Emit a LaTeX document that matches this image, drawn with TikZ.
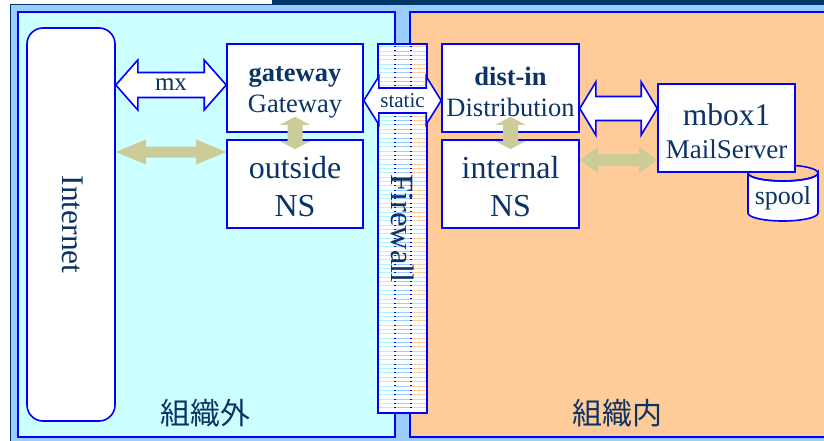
\documentclass[tikz,border=0pt]{standalone}
\usepackage{fontspec}
\setmainfont{Liberation Serif}
\newfontfamily\cjk{Noto Sans CJK JP}
\usetikzlibrary{calc}
\definecolor{lblue}{HTML}{99CCFF}
\definecolor{cyanp}{HTML}{CCFFFF}
\definecolor{orangep}{HTML}{FFCC99}
\definecolor{bblue}{HTML}{0000FF}
\definecolor{navy}{HTML}{003366}
\definecolor{khaki}{HTML}{CCCC99}
\definecolor{txt}{HTML}{0B3366}
\definecolor{cstripe}{HTML}{B0F6FF}
\definecolor{ostripe}{HTML}{FFCC99}
\tikzset{
  panel/.style={draw=bblue, line width=1.5pt},
  box/.style={draw=bblue, line width=1.6pt, fill=white, minimum width=136, minimum height=88, inner sep=0pt},
  btext/.style={inner sep=0pt, align=center, text=txt, font=\fontsize{26.5}{31}\selectfont},
  bigf/.style={font=\fontsize{32}{38}\selectfont},
  inet/.style={draw=bblue, line width=1.6pt, fill=white, rounded corners=16pt,
    minimum width=88, minimum height=393, inner sep=0pt},
  fwbox/.style={fill=white, minimum width=49, minimum height=369, inner sep=0pt},
  lbl/.style={text=txt, inner sep=0pt},
  jp/.style={text=txt, inner sep=0pt, font=\cjk\fontsize{30}{30}\selectfont},
  warrow/.style={draw=bblue, line width=1.6pt, fill=white, line join=miter},
  karrow/.style={fill=khaki},
  hdbl/.style n args={3}{to path={let \p1=(\tikztostart), \p2=(\tikztotarget) in
    -- (\x1+#3,\y1+#2) -- (\x1+#3,\y1+#1) -- (\x2-#3,\y1+#1) -- (\x2-#3,\y1+#2) -- (\x2,\y1)
    -- (\x2-#3,\y1-#2) -- (\x2-#3,\y1-#1) -- (\x1+#3,\y1-#1) -- (\x1+#3,\y1-#2) -- cycle}},
  vdbl/.style n args={3}{to path={let \p1=(\tikztostart), \p2=(\tikztotarget) in
    -- (\x1+#2,\y1-#3) -- (\x1+#1,\y1-#3) -- (\x1+#1,\y2+#3) -- (\x1+#2,\y2+#3) -- (\x1,\y2)
    -- (\x1-#2,\y2+#3) -- (\x1-#1,\y2+#3) -- (\x1-#1,\y1-#3) -- (\x1-#2,\y1-#3) -- cycle}},
}
\begin{document}
\begin{tikzpicture}[x=1pt,y=-1pt]
\useasboundingbox (0,0) rectangle (824,441);
% background
\fill[navy] (272,0) rectangle (830,4);
\filldraw[fill=lblue, draw=navy, line width=0.8pt] (10,4) rectangle (840,452);
\filldraw[panel, fill=cyanp] (18,12) rectangle (395,437);
\filldraw[panel, fill=orangep] (410,12) rectangle (840,437);
\node[jp] (outlbl) at (205,413.5) {組織外};
\node[jp] (inlbl) at (617,413.5) {組織内};
% Internet
\node[inet] (internet) at (71,224.5) {};
\node[lbl, rotate=-90, font=\fontsize{31.5}{31.5}\selectfont] (inettext) at ($(internet.center)+(2,0)$) {Internet};
% Firewall
\node[fwbox] (fw) at (402.5,228.5) {};
\foreach \i in {0,...,84} {
  \pgfmathsetmacro\yy{46.5+4.35*\i}
  \draw[cstripe, line width=0.6pt] (379,\yy) -- (395,\yy);
  \draw[lblue, line width=0.6pt] (395,\yy) -- (410,\yy);
  \draw[ostripe, line width=0.6pt] (410,\yy) -- (426,\yy);
  \draw[bblue, line width=0.7pt] (394.3,\yy) -- (396,\yy);
  \draw[bblue, line width=0.7pt] (410,\yy) -- (411.7,\yy);
}
\draw[bblue, line width=1.6pt] (fw.north west) rectangle (fw.south east);
\node[lbl, rotate=-90, font=\fontsize{32.5}{32.5}\selectfont] (fwtext) at ($(fw.center)+(0,0)$) {Firewall};
% boxes
\node[box] (gateway) at (295,88) {};
\node[btext] (gatewaytext) at ($(gateway.center)+(0,4)$) {\textbf{gateway}\\Gateway};
\node[box] (outside) at (295,184) {};
\node[btext, bigf] (outsidetext) at ($(outside.center)+(0,3)$) {outside\\NS};
\node[box, minimum width=137] (distin) at (510.5,88) {};
\node[btext] (distintext) at ($(distin.center)+(0,4)$) {\textbf{dist-in}\\Distribution};
\node[box, minimum width=137] (internal) at (510.5,184) {};
\node[btext, bigf] (internaltext) at ($(internal.center)+(0,3)$) {internal\\NS};
% spool
\filldraw[draw=bblue, line width=1.6pt, fill=white] (748,173) -- (748,213)
  arc[start angle=180, end angle=0, x radius=35, y radius=8] -- (818,173)
  arc[start angle=0, end angle=180, x radius=35, y radius=8] -- cycle;
\draw[bblue, line width=1.6pt] (783,173) ellipse [x radius=35, y radius=8];
\node[lbl, font=\fontsize{26}{26}\selectfont] (spool) at (783,198) {spool};
\node[box, minimum width=137] (mbox) at (726.5,128) {};
\node[btext, font=\fontsize{27}{33}\selectfont] (mboxtext) at ($(mbox.center)+(0,3)$)
  {{\fontsize{31.5}{33}\selectfont mbox1}\\MailServer};
% connectors
\coordinate (mxy) at (0,85);
\coordinate (k1y) at (0,152);
\coordinate (sty) at (0,100.5);
\coordinate (dmy) at (0,108.5);
\coordinate (k2y) at (0,160);
\draw[warrow, hdbl={12.5pt}{25pt}{22pt}] (internet.east |- mxy) to (gateway.west |- mxy);
\node[lbl, font=\fontsize{25}{25}\selectfont] (mx) at ($(internet.east |- mxy)!0.5!(gateway.west |- mxy)$) {mx};
\fill[karrow, hdbl={5.5pt}{12.5pt}{30pt}] (internet.east |- k1y) to (outside.west |- k1y);
\fill[karrow, vdbl={7.5pt}{15pt}{8pt}] ($(gateway.south)+(0,-16)$) to ($(outside.north)+(0,10)$);
\fill[karrow, vdbl={7.5pt}{15pt}{8pt}] ($(distin.south)+(0,-16)$) to ($(internal.north)+(0,10)$);
\draw[warrow, hdbl={12.5pt}{24pt}{15pt}] (gateway.east |- sty) to (distin.west |- sty);
\node[lbl, font=\fontsize{21}{21}\selectfont] (static) at ($(gateway.east |- sty)!0.5!(distin.west |- sty)$) {static};
\draw[warrow, hdbl={12pt}{26.5pt}{16pt}] (distin.east |- dmy) to (mbox.west |- dmy);
\fill[karrow, hdbl={6pt}{13pt}{18pt}] (internal.east |- k2y) to (mbox.west |- k2y);
\end{tikzpicture}
\end{document}
